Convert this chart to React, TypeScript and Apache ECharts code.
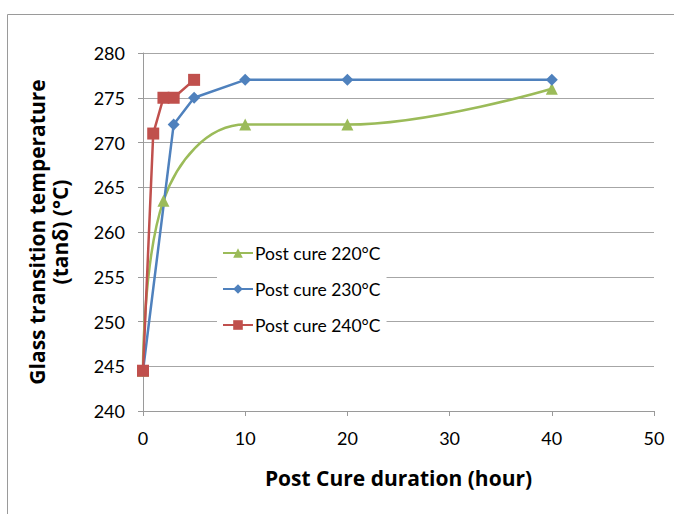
import React, { useEffect, useRef } from "react";
import * as echarts from "echarts";

const seriesNames = ["Post cure 220°C", "Post cure 230°C", "Post cure 240°C"];
const hours220 = [0, 2, 10, 20, 40];
const tg220 = [244.5, 263.5, 272, 272, 276];
const hours230 = [0, 3, 5, 10, 20, 40];
const tg230 = [244.5, 272, 275, 277, 277, 277];
const hours240 = [0, 1, 2, 3, 5];
const tg240 = [244.5, 271, 275, 275, 277];
const yTicks = [240, 245, 250, 255, 260, 265, 270, 275, 280];
const xTicks = [0, 10, 20, 30, 40, 50];

const pair = (xs: number[], ys: number[]) => xs.map((x, i) => [x, ys[i]]);

export default function App() {
  const ref = useRef<HTMLDivElement>(null);
  useEffect(() => {
    if (!ref.current) return;
    const chart = echarts.init(ref.current, null, { renderer: "svg" });
    const font = "Lato, 'Open Sans', sans-serif";
    const titleFont = "'Open Sans', 'Noto Sans', sans-serif";
    chart.setOption({
      animation: false,
      backgroundColor: "#ffffff",
      textStyle: { fontFamily: font },
      graphic: [
        {
          type: "rect",
          shape: { x: 7.5, y: 14.5, width: 700, height: 600 },
          style: { fill: "none", stroke: "#9a9a9a", lineWidth: 1 },
          z: -1,
        },
      ],
      grid: { left: 143, right: 20, top: 53, bottom: 103 },
      legend: {
        orient: "vertical",
        left: 217,
        top: 240,
        itemWidth: 30,
        itemHeight: 12,
        itemGap: 18,
        padding: [4, 6, 4, 5],
        backgroundColor: "#ffffff",
        textStyle: { fontSize: 17.5, color: "#000", fontFamily: font, padding: [0, 0, 0, -3] },
        data: seriesNames,
        z: 10,
      },
      xAxis: {
        type: "value",
        min: xTicks[0],
        max: xTicks[xTicks.length - 1],
        interval: 10,
        name: "Post Cure duration (hour)",
        nameLocation: "middle",
        nameGap: 56,
        nameTextStyle: { fontSize: 21, fontWeight: "bold", color: "#000", fontFamily: titleFont },
        axisLine: { show: true, lineStyle: { color: "#9a9a9a", width: 1 } },
        axisTick: { show: true, length: 5, lineStyle: { color: "#9a9a9a" } },
        axisLabel: { fontSize: 18, color: "#000", margin: 18 },
        splitLine: { show: false },
      },
      yAxis: {
        type: "value",
        min: yTicks[0],
        max: yTicks[yTicks.length - 1],
        interval: 5,
        name: "Glass transition temperature\n(tanδ) (°C)",
        nameLocation: "middle",
        nameRotate: 90,
        nameGap: 72,
        nameTextStyle: { fontSize: 21, fontWeight: "bold", color: "#000", fontFamily: titleFont, lineHeight: 23 },
        axisLine: { show: true, lineStyle: { color: "#9a9a9a", width: 1 } },
        axisTick: { show: true, length: 5, lineStyle: { color: "#9a9a9a" } },
        axisLabel: { fontSize: 18, color: "#000", margin: 18 },
        splitLine: { show: true, lineStyle: { color: "#a6a6a6", width: 1 } },
      },
      series: [
        {
          name: seriesNames[0],
          type: "line",
          data: pair(hours220, tg220),
          smooth: 0.4,
          symbol: "triangle",
          symbolSize: 12,
          color: "#9BBB59",
          lineStyle: { width: 2.5, color: "#9BBB59" },
          itemStyle: { color: "#9BBB59" },
        },
        {
          name: seriesNames[1],
          type: "line",
          data: pair(hours230, tg230),
          symbol: "diamond",
          symbolSize: 12,
          color: "#4F81BD",
          lineStyle: { width: 2.5, color: "#4F81BD" },
          itemStyle: { color: "#4F81BD" },
        },
        {
          name: seriesNames[2],
          type: "line",
          data: pair(hours240, tg240),
          symbol: "rect",
          symbolSize: 12,
          color: "#C0504D",
          lineStyle: { width: 2.5, color: "#C0504D" },
          itemStyle: { color: "#C0504D" },
        },
      ],
    });
    return () => chart.dispose();
  }, []);
  return (
    <div
      ref={ref}
      style={{ position: "absolute", left: 0, top: 0, width: 674, height: 514 }}
    />
  );
}
